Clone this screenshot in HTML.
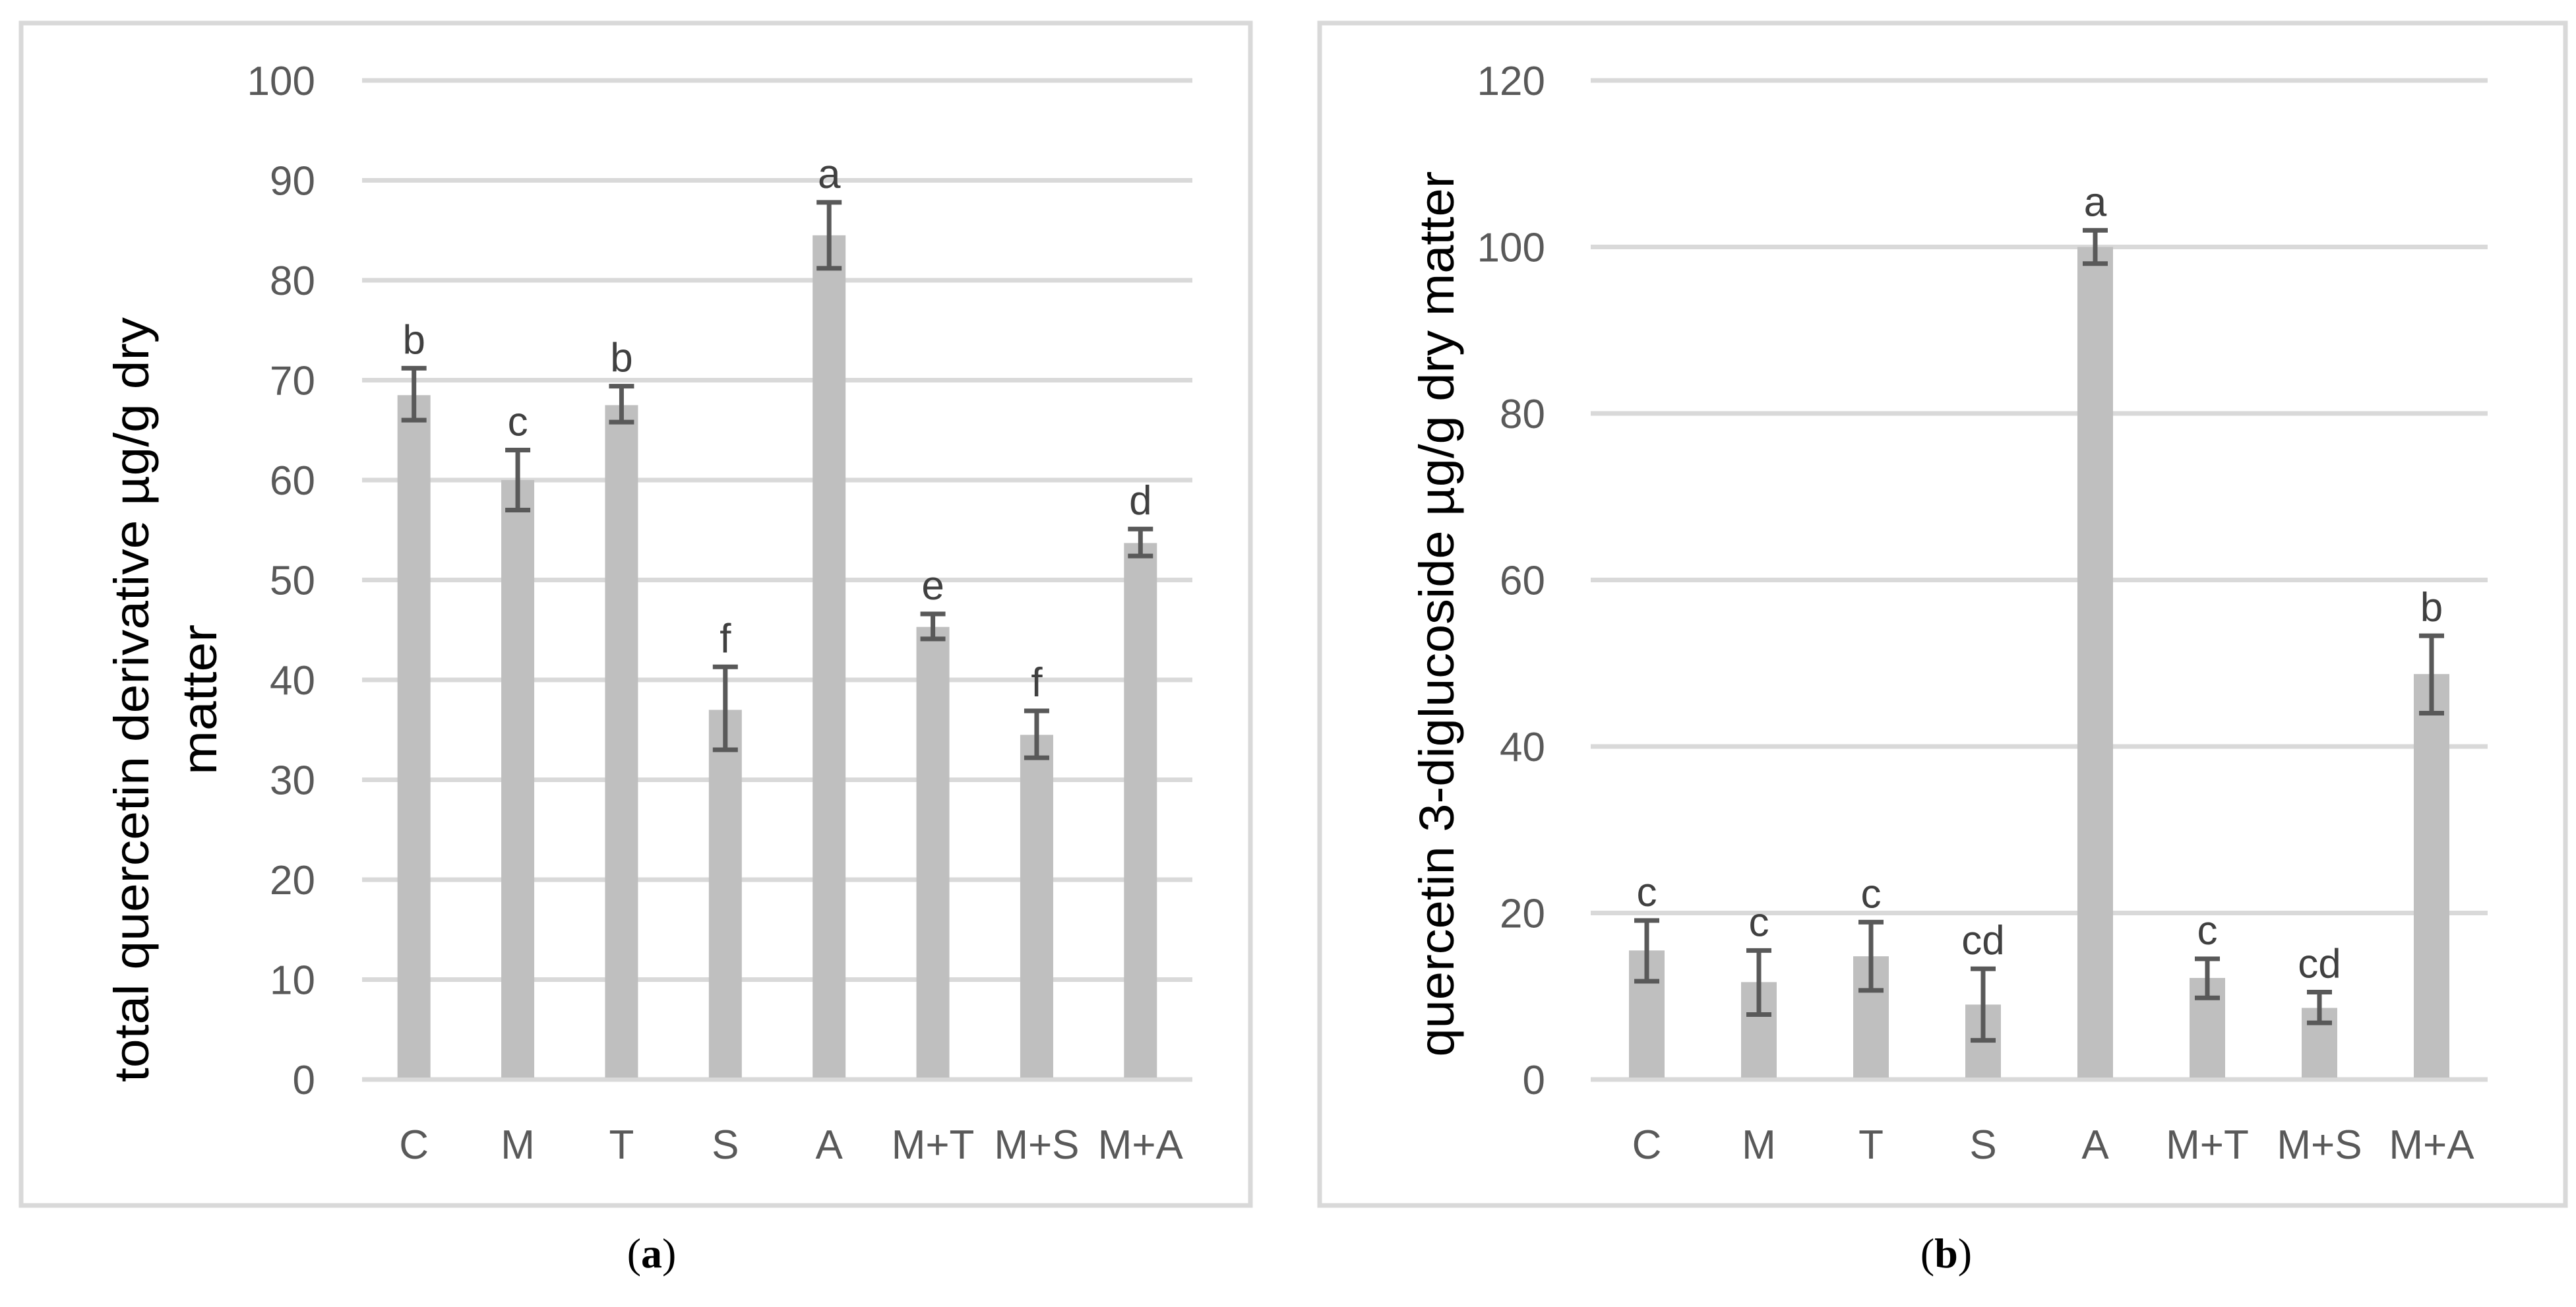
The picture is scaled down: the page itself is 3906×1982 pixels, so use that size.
<!DOCTYPE html>
<html><head><meta charset="utf-8"><style>
html,body{margin:0;padding:0;background:#fff;}
svg{display:block;}
</style></head><body>
<svg id="fig" width="3906" height="1982" viewBox="0 0 3906 1982" xmlns="http://www.w3.org/2000/svg">
<rect x="32" y="35" width="1864" height="1793" fill="none" stroke="#d9d9d9" stroke-width="7"/>
<rect x="2001" y="35" width="1889" height="1793" fill="none" stroke="#d9d9d9" stroke-width="7"/>
<g id="pa"></g>
<g id="pb"></g>
<text x="225" y="1061" transform="rotate(-90 225 1061)" text-anchor="middle" font-family="Liberation Sans, sans-serif" font-size="74" fill="#000" textLength="1160" lengthAdjust="spacingAndGlyphs">total quercetin derivative µg/g dry</text>
<text x="328" y="1061" transform="rotate(-90 328 1061)" text-anchor="middle" font-family="Liberation Sans, sans-serif" font-size="74" fill="#000" textLength="228" lengthAdjust="spacingAndGlyphs">matter</text>
<text x="2204" y="931" transform="rotate(-90 2204 931)" text-anchor="middle" font-family="Liberation Sans, sans-serif" font-size="74" fill="#000" textLength="1343" lengthAdjust="spacingAndGlyphs">quercetin 3-diglucoside µg/g dry matter</text>
<text x="988" y="1922" text-anchor="middle" font-family="Liberation Serif, serif" font-size="64" fill="#000">(<tspan font-weight="bold">a</tspan>)</text>
<text x="2951" y="1922" text-anchor="middle" font-family="Liberation Serif, serif" font-size="64" fill="#000">(<tspan font-weight="bold">b</tspan>)</text>
</svg>
<script>
const categories = ["C","M","T","S","A","M+T","M+S","M+A"];
const valuesA = [68.5,60,67.5,37,84.5,45.3,34.5,53.7];
const errLowA = [66,57,65.8,33,81.2,44.1,32.2,52.4];
const errHighA = [71.2,63,69.4,41.3,87.8,46.6,36.9,55.1];
const lettersA = ["b","c","b","f","a","e","f","d"];
const ticksA = [0,10,20,30,40,50,60,70,80,90,100];
const valuesB = [15.5,11.7,14.8,9,100,12.2,8.6,48.7];
const errLowB = [11.8,7.8,10.7,4.7,98,9.8,6.8,44.0];
const errHighB = [19.1,15.5,18.9,13.3,102,14.5,10.5,53.3];
const lettersB = ["c","c","c","cd","a","c","cd","b"];
const ticksB = [0,20,40,60,80,100,120];

const NS="http://www.w3.org/2000/svg";
function mk(parent,tag,attrs,text){const e=document.createElementNS(NS,tag);for(const k in attrs)e.setAttribute(k,attrs[k]);if(text!==undefined)e.textContent=text;parent.appendChild(e);return e;}

function draw(g,cfg,vals,lo,hi,letters,ticks){
  const y0=1637,yTop=122,max=ticks[ticks.length-1];
  const yScale=v=>y0-(v/max)*(y0-yTop);
  const band=(cfg.x1-cfg.x0)/categories.length;
  const xScale=i=>cfg.x0+band*(i+0.5);
  ticks.forEach(t=>{
    const l=mk(g,"line",{x1:cfg.x0,x2:cfg.x1,y1:yScale(t),y2:yScale(t),stroke:"#d9d9d9","stroke-width":7});
    
    
    const tx=mk(g,"text",{x:cfg.tickX,y:yScale(t)+22,"text-anchor":"end","font-family":"Liberation Sans, sans-serif","font-size":62,fill:"#595959"},String(t));
    
    
  });
  vals.forEach((v,i)=>{
    const cx=xScale(i);
    const r=mk(g,"rect",{x:cx-cfg.bw/2,y:yScale(v),width:cfg.bw,height:yScale(0)-yScale(v)-3,fill:"#bfbfbf"});
    
    
    const eg=mk(g,"g",{stroke:"#595959","stroke-width":7});
    
    
    mk(eg,"line",{x1:cx,x2:cx,y1:yScale(hi[i]),y2:yScale(lo[i])});
    mk(eg,"line",{x1:cx-19,x2:cx+19,y1:yScale(hi[i]),y2:yScale(hi[i])});
    mk(eg,"line",{x1:cx-19,x2:cx+19,y1:yScale(lo[i]),y2:yScale(lo[i])});
    const lt=mk(g,"text",{x:cx,y:yScale(hi[i])-22,"text-anchor":"middle","font-family":"Liberation Sans, sans-serif","font-size":62,fill:"#404040"},letters[i]);
    
    
    const cl=mk(g,"text",{x:cx,y:1757,"text-anchor":"middle","font-family":"Liberation Sans, sans-serif","font-size":62,fill:"#595959"},categories[i]);
    
    
  });
}
draw(document.getElementById('pa'),{x0:549,x1:1808,bw:50,tickX:478},valuesA,errLowA,errHighA,lettersA,ticksA);
draw(document.getElementById('pb'),{x0:2412,x1:3772,bw:54,tickX:2343},valuesB,errLowB,errHighB,lettersB,ticksB);
</script>
</body></html>
